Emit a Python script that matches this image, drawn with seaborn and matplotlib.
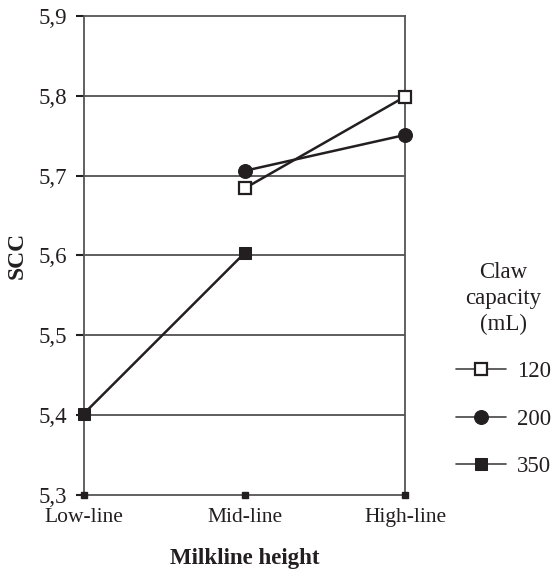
import numpy as np
import pandas as pd
import matplotlib
matplotlib.use("Agg")
import matplotlib.pyplot as plt
import seaborn as sns
from matplotlib.ticker import FuncFormatter

# Data
heights = ["Low-line", "Mid-line", "High-line"]
claw_120 = [np.nan, 5.684, 5.799]
claw_200 = [np.nan, 5.706, 5.751]
claw_350 = [5.402, 5.603, np.nan]
capacities = ["120", "200", "350"]
y_ticks = [5.3, 5.4, 5.5, 5.6, 5.7, 5.8, 5.9]

INK = "#231f20"

sns.set_style("white")
plt.rcParams["font.family"] = ["Liberation Serif", "DejaVu Serif"]

fig = plt.figure(figsize=(5.52, 5.74), dpi=100)
ax = fig.add_axes([0.152, 0.1376, 0.582, 0.8346])

x = np.arange(len(heights))
styles = {
    "120": dict(marker="s", markerfacecolor="white", markeredgecolor=INK,
                markeredgewidth=1.6, markersize=8),
    "200": dict(marker="o", markerfacecolor=INK, markeredgecolor=INK,
                markersize=10),
    "350": dict(marker="s", markerfacecolor=INK, markeredgecolor=INK,
                markersize=9),
}
for cap, vals in zip(capacities, [claw_120, claw_200, claw_350]):
    df = pd.DataFrame({"x": x, "y": vals}).dropna()
    sns.lineplot(data=df, x="x", y="y", ax=ax, color=INK, linewidth=1.8,
                 label=cap, clip_on=False, zorder=4, **styles[cap])

for yt in y_ticks[1:-1]:
    ax.axhline(yt, color="#333333", linewidth=1.1, zorder=0)

ax.set_xlim(0, 2)
ax.set_ylim(5.3, 5.9)
ax.set_yticks(y_ticks)
ax.yaxis.set_major_formatter(FuncFormatter(lambda v, p: f"{v:.1f}".replace(".", ",")))
ax.set_xticks(x)
ax.set_xticklabels(heights)
ax.tick_params(axis="y", left=True, length=6, width=1.5, color=INK,
               labelsize=16.5, pad=6, labelcolor=INK)
ax.tick_params(axis="x", bottom=False, labelsize=15.5, pad=6, labelcolor=INK)
for s in ax.spines.values():
    s.set_color("#555555")
    s.set_linewidth(1.3)

# square tick markers along the x axis
ax.plot(x, [5.3] * len(x), linestyle="none", marker="s", markersize=4.5,
        color=INK, clip_on=False, zorder=5)

ax.set_xlabel("Milkline height", fontsize=16.5, fontweight="bold", labelpad=15,
              color=INK)
ax.set_ylabel("SCC", fontsize=17, fontweight="bold", labelpad=8, color=INK)

leg = ax.legend(title="Claw\ncapacity\n(mL)", loc="upper left",
                bbox_to_anchor=(456 / 552, 1 - 262 / 574),
                bbox_transform=fig.transFigure, frameon=False, fontsize=16.5,
                title_fontsize=16.5, handlelength=2.2, labelspacing=1.15,
                handletextpad=0.45, borderpad=0, borderaxespad=0)
leg._legend_box.align = "center"
for t in leg.get_texts():
    t.set_color(INK)
leg.get_title().set_color(INK)
leg.get_title().set_multialignment("center")
leg.get_title().set_linespacing(1.3)
for h in leg.legend_handles:
    h.set_linewidth(1.2)
    h.set_color("#444444")

fig.savefig("out.png", dpi=100)
